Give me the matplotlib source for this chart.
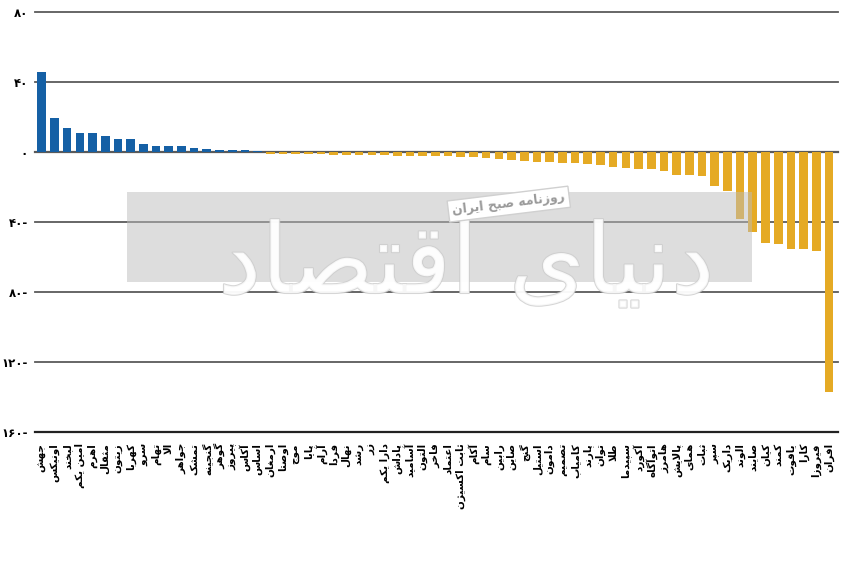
import matplotlib
matplotlib.use("Agg")
import matplotlib.pyplot as plt
import matplotlib.patheffects as pe
from matplotlib.patches import Rectangle

# -----------------------------------
# Data
# -----------------------------------
names = [
    "جهش", "اونیکس", "لبخند", "امین یکم", "اهرم", "مثقال", "زیتون", "کهربا",
    "سرو", "تهام", "الا", "جواهر", "تمشک", "گنجینه", "گوهر", "پیروز",
    "آکاس", "اساس", "ارمغان", "اوصتا", "موج", "پایا", "آرام", "فردا",
    "نهال", "رشد", "زر", "دارا یکم", "پاداش", "آسامید", "التون", "فاخر",
    "اعتماد", "ثابت اکسیژن", "آکام", "سام", "رابین", "صاین", "گنج", "استیل",
    "دامون", "تصمیم", "کامیاب", "پارند", "توان", "طلا", "سپیدما", "آکورد",
    "اتوآگاه", "هامرز", "پالایش", "همای", "ثبات", "سپر", "داریک", "الوند",
    "صایند", "کیان", "کمند", "یاقوت", "کارا", "فیروزا", "افران",
]

values = [
    46.0, 19.3, 13.5, 10.7, 10.7, 9.0, 7.3, 7.3, 4.4, 3.2, 3.2, 3.2, 2.1,
    1.5, 1.0, 1.0, 1.0, 0.8,
    -0.9, -0.9, -0.9, -0.9, -1.1, -1.5, -1.5, -1.7, -1.9, -1.9, -2.1, -2.1,
    -2.1, -2.3, -2.5, -2.9, -3.0, -3.4, -4.0, -4.4, -5.0, -5.7, -5.7, -6.1,
    -6.1, -7.0, -7.6, -8.4, -9.3, -9.5, -9.9, -11.0, -13.1, -13.1, -13.7,
    -19.4, -22.3, -38.0, -45.7, -51.8, -52.8, -55.6, -55.6, -56.4, -137.0,
]

y_ticks = [80, 40, 0, -40, -80, -120, -160]
y_labels = ["۸۰", "۴۰", "۰", "۴۰-", "۸۰-", "۱۲۰-", "۱۶۰-"]

blue = "#1560A5"
orange = "#E5AA24"


# -----------------------------------
# Minimal Persian shaping (matplotlib has no complex text layout)
# -----------------------------------
FORMS = {
    "ا": (0xFE8D, 0xFE8E, None, None),
    "آ": (0xFE81, 0xFE82, None, None),
    "ب": (0xFE8F, 0xFE90, 0xFE91, 0xFE92),
    "پ": (0xFB56, 0xFB57, 0xFB58, 0xFB59),
    "ت": (0xFE95, 0xFE96, 0xFE97, 0xFE98),
    "ث": (0xFE99, 0xFE9A, 0xFE9B, 0xFE9C),
    "ج": (0xFE9D, 0xFE9E, 0xFE9F, 0xFEA0),
    "چ": (0xFB7A, 0xFB7B, 0xFB7C, 0xFB7D),
    "ح": (0xFEA1, 0xFEA2, 0xFEA3, 0xFEA4),
    "خ": (0xFEA5, 0xFEA6, 0xFEA7, 0xFEA8),
    "د": (0xFEA9, 0xFEAA, None, None),
    "ذ": (0xFEAB, 0xFEAC, None, None),
    "ر": (0xFEAD, 0xFEAE, None, None),
    "ز": (0xFEAF, 0xFEB0, None, None),
    "ژ": (0xFB8A, 0xFB8B, None, None),
    "س": (0xFEB1, 0xFEB2, 0xFEB3, 0xFEB4),
    "ش": (0xFEB5, 0xFEB6, 0xFEB7, 0xFEB8),
    "ص": (0xFEB9, 0xFEBA, 0xFEBB, 0xFEBC),
    "ض": (0xFEBD, 0xFEBE, 0xFEBF, 0xFEC0),
    "ط": (0xFEC1, 0xFEC2, 0xFEC3, 0xFEC4),
    "ظ": (0xFEC5, 0xFEC6, 0xFEC7, 0xFEC8),
    "ع": (0xFEC9, 0xFECA, 0xFECB, 0xFECC),
    "غ": (0xFECD, 0xFECE, 0xFECF, 0xFED0),
    "ف": (0xFED1, 0xFED2, 0xFED3, 0xFED4),
    "ق": (0xFED5, 0xFED6, 0xFED7, 0xFED8),
    "ک": (0xFB8E, 0xFB8F, 0xFB90, 0xFB91),
    "گ": (0xFB92, 0xFB93, 0xFB94, 0xFB95),
    "ل": (0xFEDD, 0xFEDE, 0xFEDF, 0xFEE0),
    "م": (0xFEE1, 0xFEE2, 0xFEE3, 0xFEE4),
    "ن": (0xFEE5, 0xFEE6, 0xFEE7, 0xFEE8),
    "و": (0xFEED, 0xFEEE, None, None),
    "ه": (0xFEE9, 0xFEEA, 0xFEEB, 0xFEEC),
    "ی": (0xFBFC, 0xFBFD, 0xFBFE, 0xFBFF),
}
LAM_ALEF = {"ا": (0xFEFB, 0xFEFC), "آ": (0xFEF5, 0xFEF6)}


def joins_next(ch):
    return ch in FORMS and FORMS[ch][2] is not None


def shape(text):
    out = []
    i = 0
    n = len(text)
    while i < n:
        ch = text[i]
        if ch not in FORMS:
            out.append(ch)
            i += 1
            continue
        prev = text[i - 1] if i > 0 else ""
        link_prev = joins_next(prev)
        if ch == "ل" and i + 1 < n and text[i + 1] in LAM_ALEF:
            iso, fin = LAM_ALEF[text[i + 1]]
            out.append(chr(fin if link_prev else iso))
            i += 2
            continue
        nxt = text[i + 1] if i + 1 < n else ""
        link_next = joins_next(ch) and nxt in FORMS
        iso, fin, ini, med = FORMS[ch]
        if link_prev and link_next:
            code = med
        elif link_prev:
            code = fin
        elif link_next:
            code = ini
        else:
            code = iso
        out.append(chr(code))
        i += 1
    return "".join(reversed(out))


# -----------------------------------
# Plot
# -----------------------------------
plt.rcParams["font.family"] = ["DejaVu Sans"]

fig = plt.figure(figsize=(8.48, 5.67), dpi=100)
ax = fig.add_axes([35 / 848, 1 - 432 / 567, 803 / 848, 420 / 567])

x = list(range(len(values)))
colors = [blue if v > 0 else orange for v in values]

for yv in y_ticks:
    lc = "#222222" if yv == -160 else "#5a5a5a"
    lw = 1.6 if yv in (0, -160) else 1.3
    ax.axhline(yv, color=lc, linewidth=lw, zorder=1, clip_on=False)

ax.bar(x, values, width=0.68, color=colors, zorder=2)

ax.set_xlim(-0.53, len(values) - 1 + 0.71)
ax.set_ylim(-160, 80)

ax.set_yticks(y_ticks)
ax.set_yticklabels(y_labels, fontsize=8.5, fontweight="bold")
ax.set_xticks(x)
ax.set_xticklabels([shape(s) for s in names], rotation=90, fontsize=7.5,
                   fontweight="bold", va="top", ha="center")
ax.tick_params(axis="y", length=0, pad=5)
ax.tick_params(axis="x", length=0, pad=8)

for side in ["top", "right", "left", "bottom"]:
    ax.spines[side].set_visible(False)

# watermark
fig.patches.append(Rectangle((127 / 848, 1 - 282 / 567), 625 / 848, 90 / 567,
                             transform=fig.transFigure, facecolor="#bdbdbd",
                             alpha=0.5, edgecolor="none", zorder=5))
fig.text(0.55, 0.53, shape("دنیای اقتصاد"), fontsize=70, color="white",
         ha="center", va="center", alpha=0.8, zorder=6,
         path_effects=[pe.withStroke(linewidth=1.5, foreground="#cccccc")])
fig.text(0.6, 0.64, shape("روزنامه صبح ایران"), fontsize=9, color="#9a9a9a",
         fontweight="bold", ha="center", va="center", rotation=7, zorder=7,
         bbox=dict(facecolor="white", edgecolor="#d0d0d0", pad=3))

fig.savefig("out.png", dpi=100)
